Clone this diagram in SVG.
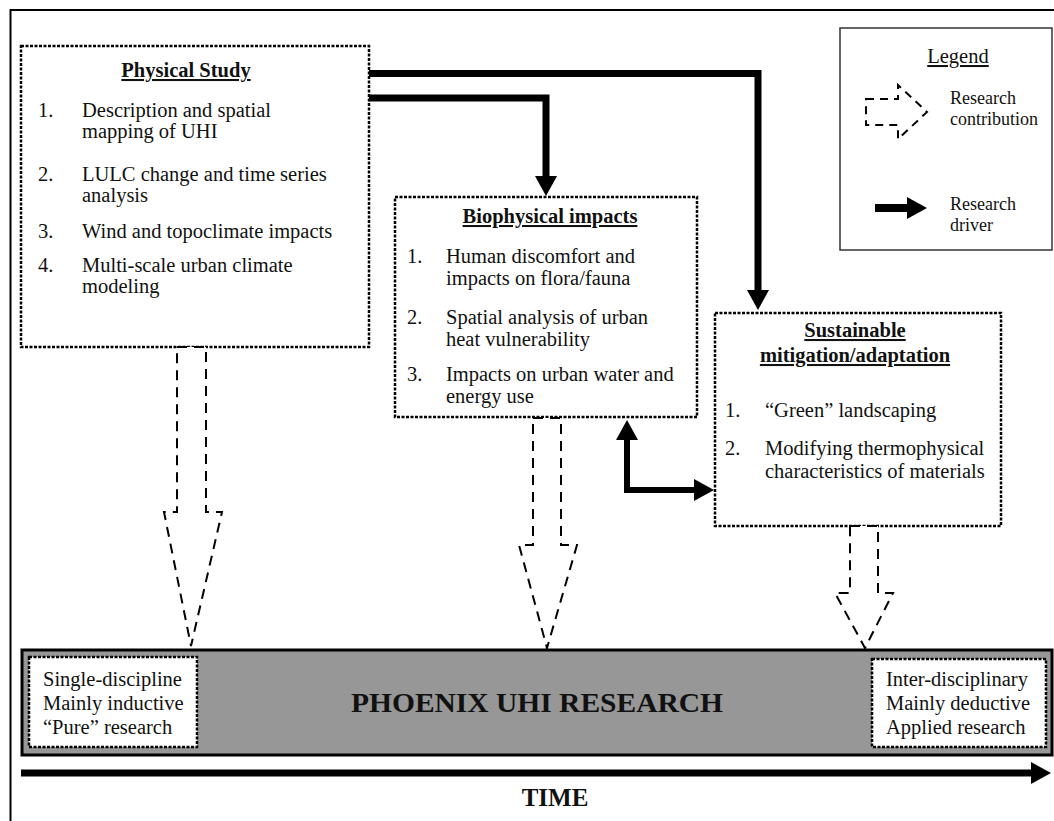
<svg xmlns="http://www.w3.org/2000/svg" width="1054" height="821" viewBox="0 0 1054 821">
<defs>
<style>
text{font-family:"Liberation Serif","Times New Roman",serif;fill:#111;}
.b{font-size:20.5px;}
.t{font-size:20.5px;font-weight:bold;text-decoration:underline;}
.box{fill:#fff;stroke:#000;stroke-width:2.5;stroke-dasharray:3 1.5;}
.contrib{fill:#fff;stroke:#000;stroke-width:2;stroke-dasharray:10 7;}
.driver{fill:none;stroke:#000;stroke-width:7;stroke-linejoin:miter;}
</style>
<marker id="head" markerUnits="userSpaceOnUse" viewBox="0 0 20 22" markerWidth="20" markerHeight="22" refX="1" refY="11" orient="auto-start-reverse">
<path d="M0,0 L20,11 L0,22 z" fill="#000"/>
</marker>
</defs>
<rect width="1054" height="821" fill="#fff"/>
<rect x="10.5" y="10" width="1060" height="830" fill="none" stroke="#000" stroke-width="2"/>

<g id="physical-study">
<rect class="box" x="21" y="46" width="348" height="301"/>
<text class="t" x="186" y="77" text-anchor="middle">Physical Study</text>
<text class="b" x="38" y="117">1.</text>
<text class="b" x="82" y="117">Description and spatial</text>
<text class="b" x="82" y="138">mapping of UHI</text>
<text class="b" x="38" y="181">2.</text>
<text class="b" x="82" y="181">LULC change and time series</text>
<text class="b" x="82" y="202">analysis</text>
<text class="b" x="38" y="238">3.</text>
<text class="b" x="82" y="238">Wind and topoclimate impacts</text>
<text class="b" x="38" y="272">4.</text>
<text class="b" x="82" y="272">Multi-scale urban climate</text>
<text class="b" x="82" y="293">modeling</text>
</g>

<g id="biophysical-impacts">
<rect class="box" x="395" y="197" width="302" height="220"/>
<text class="t" x="550" y="223" text-anchor="middle">Biophysical impacts</text>
<text class="b" x="407" y="263">1.</text>
<text class="b" x="446" y="263">Human discomfort and</text>
<text class="b" x="446" y="285">impacts on flora/fauna</text>
<text class="b" x="407" y="324">2.</text>
<text class="b" x="446" y="324">Spatial analysis of urban</text>
<text class="b" x="446" y="346">heat vulnerability</text>
<text class="b" x="407" y="381">3.</text>
<text class="b" x="446" y="381">Impacts on urban water and</text>
<text class="b" x="446" y="403">energy use</text>
</g>

<g id="sustainable-mitigation">
<rect class="box" x="715" y="313" width="286" height="213"/>
<text class="t" x="855" y="337" text-anchor="middle">Sustainable</text>
<text class="t" x="855" y="362" text-anchor="middle">mitigation/adaptation</text>
<text class="b" x="725" y="417">1.</text>
<text class="b" x="765" y="417">“Green” landscaping</text>
<text class="b" x="725" y="455">2.</text>
<text class="b" x="765" y="455">Modifying thermophysical</text>
<text class="b" x="765" y="478">characteristics of materials</text>
</g>

<g id="legend">
<rect x="840" y="28" width="212" height="222" fill="#fff" stroke="#333" stroke-width="1.5"/>
<text class="b" x="958" y="63" text-anchor="middle" style="text-decoration:underline">Legend</text>
<polygon points="866,99 898,99 898,85 927,112 898,139 898,125 866,125" fill="none" stroke="#000" stroke-width="2" stroke-dasharray="8 6"/>
<text class="b" x="950" y="104" style="font-size:18px">Research</text>
<text class="b" x="950" y="125" style="font-size:18px">contribution</text>
<path d="M875,208 H908" fill="none" stroke="#000" stroke-width="8" marker-end="url(#head)"/>
<text class="b" x="950" y="210" style="font-size:18px">Research</text>
<text class="b" x="950" y="231" style="font-size:18px">driver</text>
</g>

<g id="connectors">
<path class="driver" d="M369,73.5 H758 V291" marker-end="url(#head)"/>
<path class="driver" d="M369,98 H546 V177" marker-end="url(#head)"/>
<path d="M627,439 V490 H695" fill="none" stroke="#000" stroke-width="6" stroke-linejoin="miter" marker-start="url(#head)" marker-end="url(#head)"/>
<polygon class="contrib" points="177,347 206,347 206,512 222,512 191,646 164,512 177,512"/>
<polygon class="contrib" points="533,418 561,418 561,545 577,545 547,648 519,545 533,545"/>
<polygon class="contrib" points="850,526 878,526 878,593 893,593 865,648 835,593 850,593"/>
</g>

<g id="phoenix-uhi-research">
<rect x="22" y="650" width="1030" height="105" fill="#979797" stroke="#000" stroke-width="3"/>
<rect class="box" x="29" y="657" width="168" height="90"/>
<text class="b" x="43" y="686">Single-discipline</text>
<text class="b" x="43" y="710">Mainly inductive</text>
<text class="b" x="43" y="734">“Pure” research</text>
<rect class="box" x="872" y="659" width="174" height="88"/>
<text class="b" x="886" y="686">Inter-disciplinary</text>
<text class="b" x="886" y="710">Mainly deductive</text>
<text class="b" x="886" y="734">Applied research</text>
<text x="537" y="712" text-anchor="middle" style="font-size:27px;font-weight:bold" textLength="372" lengthAdjust="spacingAndGlyphs">PHOENIX UHI RESEARCH</text>
</g>

<g id="time">
<path d="M21,773 H1032" fill="none" stroke="#000" stroke-width="7" marker-end="url(#head)"/>
<text x="555" y="806" text-anchor="middle" style="font-size:25px;font-weight:bold">TIME</text>
</g>
</svg>
